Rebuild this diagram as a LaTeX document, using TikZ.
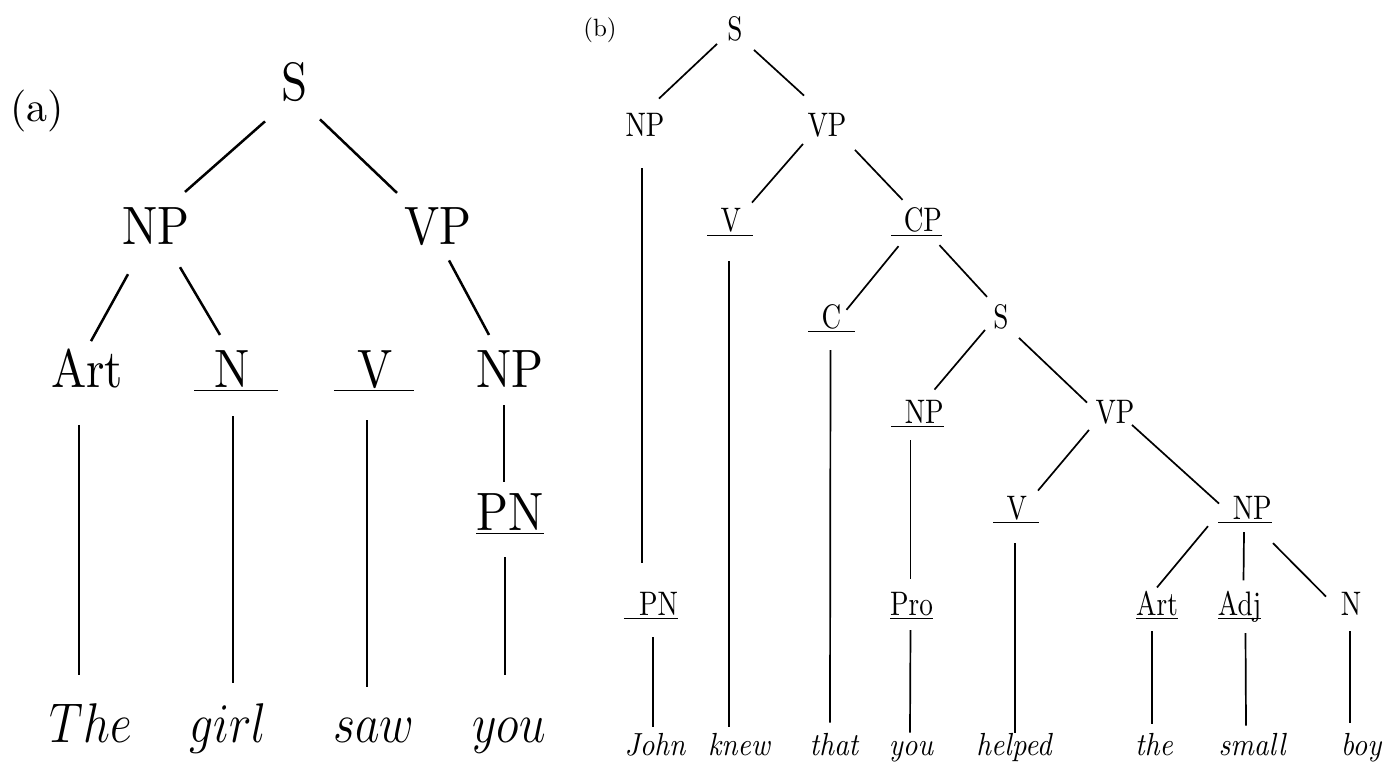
\RequirePackage{fix-cm}
\documentclass[tikz,border=0pt]{standalone}
\usepackage{amsmath}
\usepackage{fontspec}
\setmainfont{lmroman10-regular.otf}[ItalicFont=lmroman10-italic.otf]
\usepackage{tikz}

% underlined category with padding left/right
\newcommand{\ulab}[3]{\underline{\smash[b]{\hspace{#1}#2\hspace{#3}}}}

\begin{document}
\begin{tikzpicture}[x=1pt,y=-1pt,
    cata/.style={inner sep=0pt,anchor=base,xscale=0.87,font=\fontsize{54}{60}\selectfont},
    worda/.style={inner sep=0pt,anchor=base,xscale=0.85,font=\fontsize{56}{62}\selectfont},
    catb/.style={inner sep=0pt,anchor=base,xscale=0.8,font=\fontsize{34}{40}\selectfont},
    wordb/.style={inner sep=0pt,anchor=base,xscale=0.9,font=\fontsize{32}{38}\selectfont\itshape},
    linka/.style={line width=2.5pt},
    linkb/.style={line width=1.7pt}]
    \useasboundingbox (0,0) rectangle (1398,762);

    % tree (a)
    \node [inner sep=0pt,anchor=base,font=\fontsize{42}{48}\selectfont] (laba) at (37,122) {(a)};
    \node [cata] (Sa) at (295,101) {S};
    \node [cata] (NPa) at (156,245) {NP};
    \node [cata] (VPa) at (438,245) {VP};
    \node [cata] (Arta) at (87,387) {Art};
    \node [cata] (Na) at (236,387) {\ulab{24pt}{N}{32pt}};
    \node [cata] (Va) at (374,387) {\ulab{27pt}{V}{25pt}};
    \node [cata] (NPa2) at (510,387) {NP};
    \node [cata] (PNa) at (510,530) {\ulab{0pt}{PN}{0pt}};
    \node [worda] (wThe) at (91,742) {$The$};
    \node [worda] (wgirl) at (228,742) {$girl$};
    \node [worda] (wsaw) at (374,742) {$saw$};
    \node [worda] (wyou) at (509,742) {$you$};

    \draw [linka] ([xshift=-30pt,yshift=-19pt]Sa.south) -- ([xshift=29pt,yshift=16pt]NPa.north);
    \draw [linka] ([xshift=25pt,yshift=-17pt]Sa.south) -- ([xshift=-41pt,yshift=15pt]VPa.north);
    \draw [linka] ([xshift=-28pt,yshift=-29pt]NPa.south) -- ([xshift=4pt,yshift=7pt]Arta.north);
    \draw [linka] ([xshift=24pt,yshift=-22pt]NPa.south) -- ([xshift=-16pt,yshift=15pt]Na.north);
    \draw [linka] ([xshift=11pt,yshift=-14pt]VPa.south) -- ([xshift=-21pt,yshift=15pt]NPa2.north);
    \draw [linka] ([xshift=-6pt,yshift=-18pt]NPa2.south) -- ([xshift=-6pt,yshift=11pt]PNa.north);
    \draw [linka] ([xshift=-5pt,yshift=-22pt]PNa.south) -- ([xshift=-4pt,yshift=43pt]wyou.north);
    \draw [linka] ([xshift=-8pt,yshift=-37pt]Arta.south) -- ([xshift=-12pt,yshift=28pt]wThe.north);
    \draw [linka] ([xshift=-3pt,yshift=-24pt]Na.south) -- ([xshift=5pt,yshift=20pt]wgirl.north);
    \draw [linka] ([xshift=-7pt,yshift=-28pt]Va.south) -- ([xshift=-7pt,yshift=31pt]wsaw.north);

    % tree (b)
    \node [inner sep=0pt,anchor=base,font=\fontsize{25}{30}\selectfont] (labb) at (600,37) {(b)};
    \node [catb] (Sb) at (735,41) {S};
    \node [catb] (NPb) at (645,137) {NP};
    \node [catb] (VPb) at (827,137) {VP};
    \node [catb] (Vb) at (730,232) {\ulab{17pt}{V}{15pt}};
    \node [catb] (CPb) at (916.5,232) {\ulab{16pt}{CP}{0pt}};
    \node [catb] (Cb) at (831.5,328) {\ulab{17pt}{C}{17pt}};
    \node [catb] (Sb2) at (1001,328) {S};
    \node [catb] (NPb2) at (917.5,423) {\ulab{17pt}{NP}{0pt}};
    \node [catb] (VPb2) at (1115,423) {VP};
    \node [catb] (Vb2) at (1016,519) {\ulab{17pt}{V}{15pt}};
    \node [catb] (NPb3) at (1245,519) {\ulab{18pt}{NP}{0pt}};
    \node [catb] (PNb) at (651,615) {\ulab{19pt}{PN}{0pt}};
    \node [catb] (Prob) at (911.5,615) {\ulab{0pt}{Pro}{0pt}};
    \node [catb] (Artb) at (1157,615) {\ulab{0pt}{Art}{0pt}};
    \node [catb] (Adjb) at (1239.5,615) {\ulab{0pt}{Adj}{0pt}};
    \node [catb] (Nb) at (1351,615) {N};
    \node [wordb] (wJohn) at (655,755) {John};
    \node [wordb] (wknew) at (739,755) {knew};
    \node [wordb] (wthat) at (834,755) {that};
    \node [wordb] (wyoub) at (911,755) {you};
    \node [wordb] (whelped) at (1014,755) {helped};
    \node [wordb] (wthe) at (1154,755) {the};
    \node [wordb] (wsmall) at (1252,755) {small};
    \node [wordb] (wboy) at (1361,755) {boy};

    \draw [linkb] ([xshift=-18pt,yshift=-2pt]Sb.south) -- ([xshift=14pt,yshift=15pt]NPb.north);
    \draw [linkb] ([xshift=19pt,yshift=-8pt]Sb.south) -- ([xshift=-23pt,yshift=18pt]VPb.north);
    \draw [linkb] ([xshift=-3pt,yshift=-31pt]NPb.south) -- ([xshift=-9pt,yshift=29pt]PNb.north);
    \draw [linkb] ([xshift=-24pt,yshift=-6pt]VPb.south) -- ([xshift=22pt,yshift=6pt]Vb.north);
    \draw [linkb] ([xshift=28pt,yshift=-12pt]VPb.south) -- ([xshift=-14pt,yshift=8pt]CPb.north);
    \draw [linkb] ([xshift=-1pt,yshift=-24pt]Vb.south) -- ([xshift=-10pt,yshift=6pt]wknew.north);
    \draw [linkb] ([xshift=-18pt,yshift=-9pt]CPb.south) -- ([xshift=15pt,yshift=-6pt]Cb.north);
    \draw [linkb] ([xshift=23pt,yshift=-8pt]CPb.south) -- ([xshift=-14pt,yshift=7pt]Sb2.north);
    \draw [linkb] ([xshift=-1pt,yshift=-17pt]Cb.south) -- ([xshift=-4pt,yshift=10pt]wthat.north);
    \draw [linkb] ([xshift=-16pt,yshift=-1pt]Sb2.south) -- ([xshift=17pt,yshift=10pt]NPb2.north);
    \draw [linkb] ([xshift=18pt,yshift=-9pt]Sb2.south) -- ([xshift=-28pt,yshift=-3pt]VPb2.north);
    \draw [linkb] ([xshift=-7pt,yshift=-12pt]NPb2.south) -- ([xshift=-1pt,yshift=13pt]Prob.north);
    \draw [linkb] ([xshift=-1pt,yshift=-10pt]Prob.south) -- ([xshift=-1pt,yshift=8pt]wyoub.north);
    \draw [linkb] ([xshift=-26pt,yshift=-6pt]VPb2.south) -- ([xshift=22pt,yshift=5pt]Vb2.north);
    \draw [linkb] ([xshift=17pt,yshift=-1pt]VPb2.south) -- ([xshift=-26pt,yshift=-8pt]NPb3.north);
    \draw [linkb] ([xshift=-1pt,yshift=-19pt]Vb2.south) -- ([xshift=1pt,yshift=0pt]whelped.north);
    \draw [linkb] ([xshift=-37pt,yshift=-2pt]NPb3.south) -- ([xshift=0pt,yshift=3pt]Artb.north);
    \draw [linkb] ([xshift=-1pt,yshift=-8pt]NPb3.south) -- ([xshift=4pt,yshift=10pt]Adjb.north);
    \draw [linkb] ([xshift=28pt,yshift=-19pt]NPb3.south) -- ([xshift=-25pt,yshift=-5pt]Nb.north);
    \draw [linkb] ([xshift=2pt,yshift=-17pt]PNb.south) -- ([xshift=-2pt,yshift=6pt]wJohn.north);
    \draw [linkb] ([xshift=-5pt,yshift=-11pt]Artb.south) -- ([xshift=-2pt,yshift=9pt]wthe.north);
    \draw [linkb] ([xshift=6pt,yshift=-13pt]Adjb.south) -- ([xshift=-6pt,yshift=7pt]wsmall.north);
    \draw [linkb] ([xshift=-1pt,yshift=-16pt]Nb.south) -- ([xshift=-11pt,yshift=10pt]wboy.north);
\end{tikzpicture}
\end{document}
